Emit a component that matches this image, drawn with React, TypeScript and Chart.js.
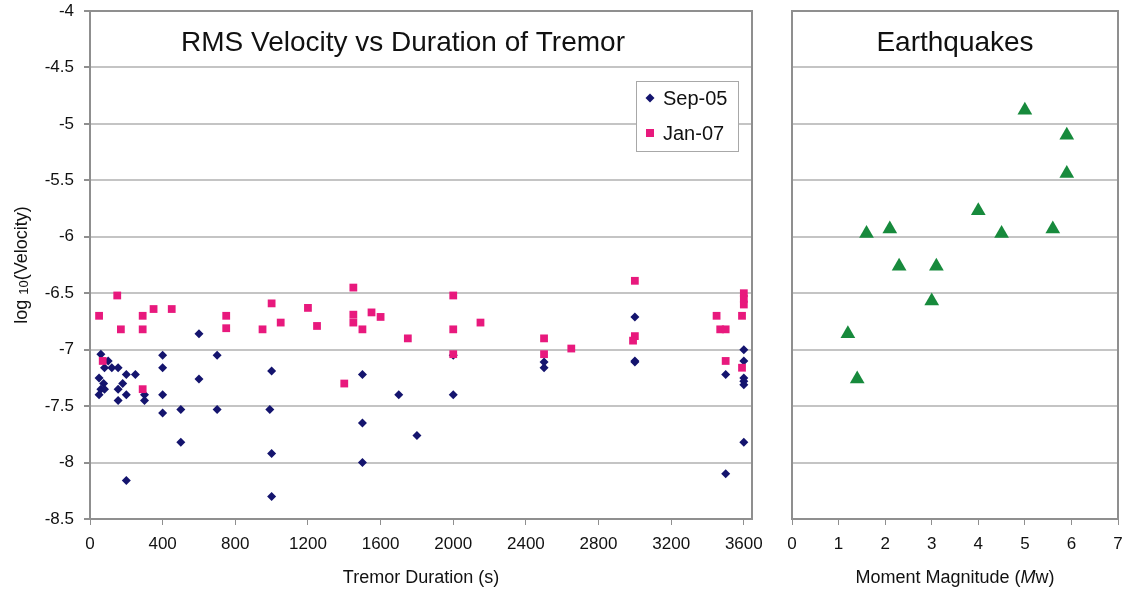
import React, { useEffect, useRef } from "react";
import { Chart, registerables } from "chart.js";

Chart.register(...registerables);

// ---------- data ----------
const sep05Duration = [60, 100, 80, 120, 155, 50, 200, 250, 75, 60, 80, 50, 180, 155, 200, 155, 300, 300, 200, 400, 400, 400, 400, 500, 500, 600, 600, 700, 700, 1000, 990, 1000, 1000, 1500, 1700, 2000, 1500, 1800, 1500, 2000, 2500, 2500, 3000, 3000, 3000, 3600, 3600, 3500, 3600, 3600, 3600, 3600, 3500];
const sep05LogV = [-7.04, -7.1, -7.16, -7.16, -7.16, -7.25, -7.22, -7.22, -7.3, -7.35, -7.35, -7.4, -7.3, -7.35, -7.4, -7.45, -7.4, -7.45, -8.16, -7.05, -7.16, -7.4, -7.56, -7.53, -7.82, -6.86, -7.26, -7.05, -7.53, -7.19, -7.53, -7.92, -8.3, -7.22, -7.4, -7.4, -7.65, -7.76, -8.0, -7.05, -7.11, -7.16, -6.71, -7.1, -7.11, -7.0, -7.1, -7.22, -7.25, -7.28, -7.31, -7.82, -8.1];

const jan07Duration = [50, 150, 170, 70, 290, 290, 290, 350, 450, 750, 750, 1000, 1050, 950, 1200, 1250, 1450, 1450, 1450, 1500, 1550, 1600, 1750, 1400, 2000, 2000, 2000, 2150, 2500, 2500, 2650, 3000, 3000, 2990, 3450, 3470, 3500, 3500, 3590, 3600, 3600, 3600, 3590];
const jan07LogV = [-6.7, -6.52, -6.82, -7.1, -6.7, -6.82, -7.35, -6.64, -6.64, -6.7, -6.81, -6.59, -6.76, -6.82, -6.63, -6.79, -6.45, -6.69, -6.76, -6.82, -6.67, -6.71, -6.9, -7.3, -6.52, -6.82, -7.04, -6.76, -6.9, -7.04, -6.99, -6.39, -6.88, -6.92, -6.7, -6.82, -6.82, -7.1, -6.7, -6.5, -6.55, -6.6, -7.16];

const quakeMw = [5.0, 5.9, 5.9, 4.0, 1.6, 2.1, 4.5, 5.6, 2.3, 3.1, 3.0, 1.2, 1.4];
const quakeLogV = [-4.88, -5.1, -5.44, -5.77, -5.97, -5.93, -5.97, -5.93, -6.26, -6.26, -6.57, -6.86, -7.26];

const velocityTicks = [-8.5, -8, -7.5, -7, -6.5, -6, -5.5, -5, -4.5, -4];
const durationTicks = [0, 400, 800, 1200, 1600, 2000, 2400, 2800, 3200, 3600];
const magnitudeTicks = [0, 1, 2, 3, 4, 5, 6, 7];

const seriesNames = ["Sep-05", "Jan-07"];
const leftTitle = "RMS Velocity vs Duration of Tremor";
const rightTitle = "Earthquakes";
const leftXTitle = "Tremor Duration (s)";

// ---------- styles ----------
const FONT = "'Liberation Sans', Arial, sans-serif";
const NAVY = "#14146e";
const PINK = "#e8197d";
const GREEN = "#178a3c";
const GRID = "#c4c4c4";
const AXIS = "#8f8f8f";
const TEXT = "#111111";

const toPoints = (xs: number[], ys: number[]) => xs.map((x, i) => ({ x, y: ys[i] }));

function drawFrame(chart: any) {
  const { ctx, chartArea: a } = chart;
  ctx.save();
  ctx.strokeStyle = AXIS;
  ctx.lineWidth = 2;
  ctx.beginPath();
  ctx.moveTo(a.left, a.top);
  ctx.lineTo(a.right, a.top);
  ctx.lineTo(a.right, a.bottom);
  ctx.stroke();
  ctx.restore();
}

const leftOverlay = {
  id: "leftOverlay",
  afterDraw(chart: any) {
    const { ctx, chartArea: a } = chart;
    drawFrame(chart);
    ctx.save();
    ctx.fillStyle = TEXT;
    // title
    ctx.font = `28px ${FONT}`;
    ctx.textAlign = "center";
    ctx.textBaseline = "middle";
    ctx.fillText(leftTitle, a.left + 313, a.top + 32);
    // legend
    const bx = a.right - 116, by = a.top + 70, bw = 102, bh = 70;
    ctx.fillStyle = "#ffffff";
    ctx.fillRect(bx, by, bw, bh);
    ctx.strokeStyle = "#a8a8a8";
    ctx.lineWidth = 1;
    ctx.strokeRect(bx + 0.5, by + 0.5, bw, bh);
    const rows = [by + 17, by + 52];
    // diamond
    ctx.fillStyle = NAVY;
    ctx.beginPath();
    ctx.moveTo(bx + 14, rows[0] - 4.5);
    ctx.lineTo(bx + 18.5, rows[0]);
    ctx.lineTo(bx + 14, rows[0] + 4.5);
    ctx.lineTo(bx + 9.5, rows[0]);
    ctx.closePath();
    ctx.fill();
    // square
    ctx.fillStyle = PINK;
    ctx.fillRect(bx + 10, rows[1] - 4, 8, 8);
    ctx.fillStyle = TEXT;
    ctx.font = `20px ${FONT}`;
    ctx.textAlign = "left";
    ctx.fillText(seriesNames[0], bx + 27, rows[0] + 1);
    ctx.fillText(seriesNames[1], bx + 27, rows[1] + 1);
    // x title
    ctx.font = `18px ${FONT}`;
    ctx.textAlign = "center";
    ctx.fillText(leftXTitle, (a.left + a.right) / 2, 578);
    // y title (rotated)
    ctx.translate(22, 265);
    ctx.rotate(-Math.PI / 2);
    const big = `18px ${FONT}`;
    const small = `13px ${FONT}`;
    ctx.font = big;
    const w1 = ctx.measureText("log ").width;
    const w3 = ctx.measureText("(Velocity)").width;
    ctx.font = small;
    const w2 = ctx.measureText("10").width;
    let x = -(w1 + w2 + w3) / 2;
    ctx.textAlign = "left";
    ctx.font = big;
    ctx.fillText("log ", x, 0);
    x += w1;
    ctx.font = small;
    ctx.fillText("10", x, 2);
    x += w2;
    ctx.font = big;
    ctx.fillText("(Velocity)", x, 0);
    ctx.restore();
  },
};

const rightOverlay = {
  id: "rightOverlay",
  afterDraw(chart: any) {
    const { ctx, chartArea: a } = chart;
    drawFrame(chart);
    ctx.save();
    ctx.fillStyle = TEXT;
    ctx.font = `28px ${FONT}`;
    ctx.textAlign = "center";
    ctx.textBaseline = "middle";
    ctx.fillText(rightTitle, (a.left + a.right) / 2, a.top + 32);
    // x title with italic M
    const parts: [string, string][] = [
      ["Moment Magnitude (", `18px ${FONT}`],
      ["M", `italic 18px ${FONT}`],
      ["w", `18px ${FONT}`],
      [")", `18px ${FONT}`],
    ];
    let total = 0;
    const widths = parts.map(([t, f]) => {
      ctx.font = f;
      const w = ctx.measureText(t).width;
      total += w;
      return w;
    });
    let x = (a.left + a.right) / 2 - total / 2;
    ctx.textAlign = "left";
    parts.forEach(([t, f], i) => {
      ctx.font = f;
      ctx.fillText(t, x, 578);
      x += widths[i];
    });
    ctx.restore();
  },
};

const tickFont = { family: FONT, size: 17 };

function yScale(showLabels: boolean, width: number) {
  return {
    type: "linear",
    min: -8.5,
    max: -4,
    afterBuildTicks: (s: any) => {
      s.ticks = velocityTicks.map((v) => ({ value: v }));
    },
    afterFit: (s: any) => {
      s.width = width;
      s.paddingTop = 0;
      s.paddingBottom = 0;
    },
    ticks: {
      display: showLabels,
      color: TEXT,
      font: tickFont,
      padding: 10,
      callback: (v: any) => String(v),
    },
    grid: {
      color: GRID,
      lineWidth: 2,
      drawTicks: showLabels,
      tickLength: 6,
      tickColor: AXIS,
    },
    border: { display: true, color: AXIS, width: 2 },
  };
}

function xScale(min: number, max: number, tickList: number[]) {
  return {
    type: "linear",
    min,
    max,
    afterBuildTicks: (s: any) => {
      s.ticks = tickList.map((v) => ({ value: v }));
    },
    afterFit: (s: any) => {
      s.height = 75;
      s.paddingLeft = 0;
      s.paddingRight = 0;
    },
    ticks: {
      color: TEXT,
      font: tickFont,
      padding: 9,
      maxRotation: 0,
      autoSkip: false,
      callback: (v: any) => String(v),
    },
    grid: {
      drawOnChartArea: false,
      drawTicks: true,
      tickLength: 6,
      tickColor: AXIS,
    },
    border: { display: true, color: AXIS, width: 2 },
  };
}

export default function App() {
  const leftRef = useRef<HTMLCanvasElement | null>(null);
  const rightRef = useRef<HTMLCanvasElement | null>(null);

  useEffect(() => {
    const left = new Chart(leftRef.current as HTMLCanvasElement, {
      type: "scatter",
      data: {
        datasets: [
          {
            label: seriesNames[0],
            data: toPoints(sep05Duration, sep05LogV),
            pointStyle: "rectRot",
            pointRadius: 4.5,
            backgroundColor: NAVY,
            borderColor: NAVY,
            borderWidth: 0,
            order: 1,
          },
          {
            label: seriesNames[1],
            data: toPoints(jan07Duration, jan07LogV),
            pointStyle: "rect",
            pointRadius: 5.5,
            backgroundColor: PINK,
            borderColor: PINK,
            borderWidth: 0,
            order: 0,
          },
        ],
      },
      options: {
        responsive: false,
        animation: false,
        layout: { padding: { top: 11, right: 23, left: 0, bottom: 0 } },
        plugins: { legend: { display: false }, tooltip: { enabled: false } },
        scales: {
          x: xScale(0, 3645, durationTicks) as any,
          y: yScale(true, 90) as any,
        },
      },
      plugins: [leftOverlay],
    });

    const right = new Chart(rightRef.current as HTMLCanvasElement, {
      type: "scatter",
      data: {
        datasets: [
          {
            label: rightTitle,
            data: toPoints(quakeMw, quakeLogV),
            pointStyle: "triangle",
            pointRadius: 8.5,
            backgroundColor: GREEN,
            borderColor: GREEN,
            borderWidth: 0,
          },
        ],
      },
      options: {
        responsive: false,
        animation: false,
        layout: { padding: { top: 11, right: 17, left: 0, bottom: 0 } },
        plugins: { legend: { display: false }, tooltip: { enabled: false } },
        scales: {
          x: xScale(0, 7, magnitudeTicks) as any,
          y: yScale(false, 17) as any,
        },
      },
      plugins: [rightOverlay],
    });

    return () => {
      left.destroy();
      right.destroy();
    };
  }, []);

  return (
    <div style={{ position: "absolute", left: 0, top: 0, width: 1135, height: 594, background: "#fff" }}>
      <canvas ref={leftRef} width={775} height={594} style={{ position: "absolute", left: 0, top: 0, width: 775, height: 594 }} />
      <canvas ref={rightRef} width={360} height={594} style={{ position: "absolute", left: 775, top: 0, width: 360, height: 594 }} />
    </div>
  );
}
